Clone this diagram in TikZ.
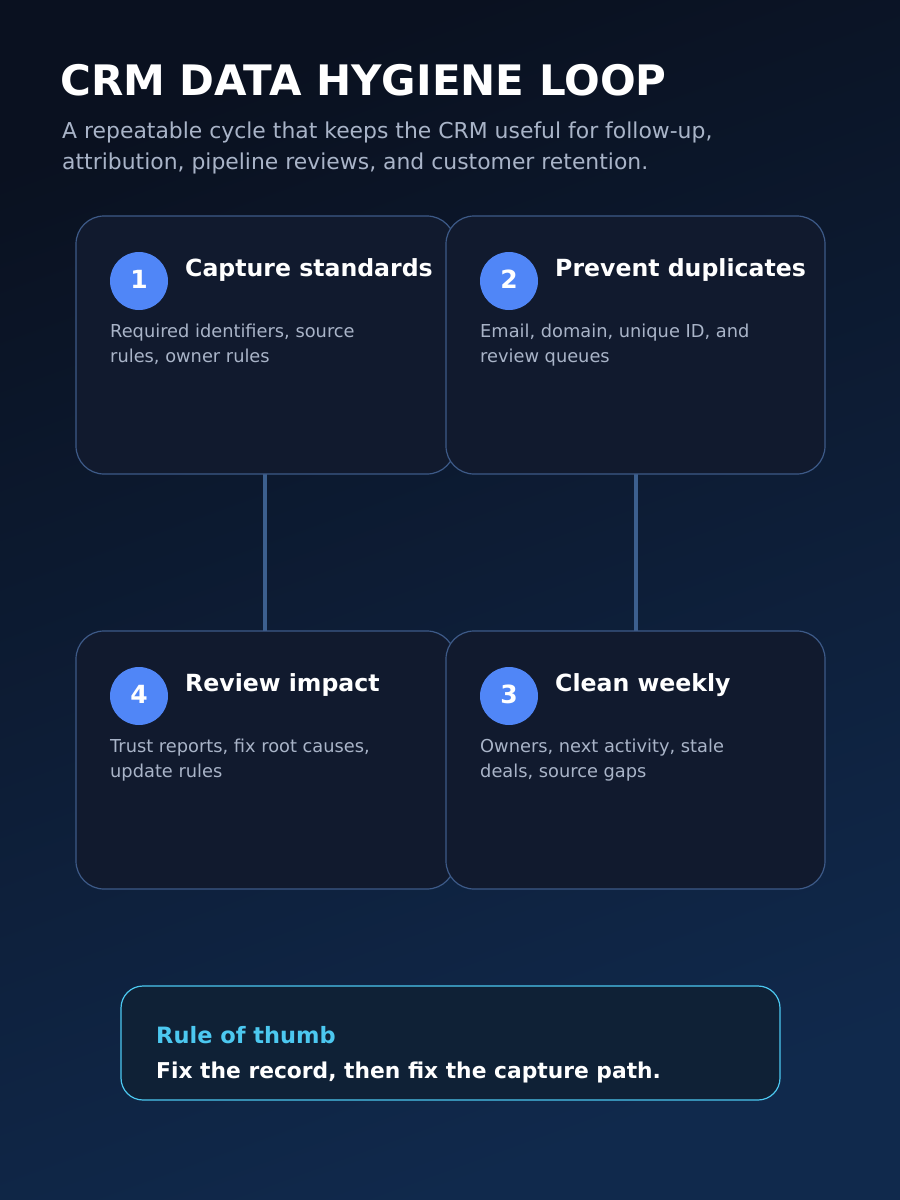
\documentclass[tikz,border=0pt]{standalone}
\usepackage{fontspec}
\setmainfont{DejaVu Sans}
\definecolor{bgA}{HTML}{0A1120}
\definecolor{bgB}{HTML}{10294C}
\definecolor{cardfill}{HTML}{111A2E}
\definecolor{cardline}{HTML}{3D5A88}
\definecolor{conn}{HTML}{3C5F8E}
\definecolor{badge}{HTML}{5086F7}
\definecolor{desc}{HTML}{A9B4C8}
\definecolor{cyanc}{HTML}{4CC8F0}
\definecolor{notefill}{HTML}{0F2136}
\begin{document}
\begin{tikzpicture}[x=1pt,y=-1pt,
  card/.style={draw=cardline,line width=1.2pt,fill=cardfill,rounded corners=28pt},
  badgec/.style={circle,fill=badge,minimum size=58pt,inner sep=0pt,text=white,font=\bfseries\fontsize{25}{28}\selectfont},
  ctitle/.style={anchor=base west,text=white,font=\bfseries\fontsize{23.6}{27}\selectfont,inner sep=0pt},
  cdesc/.style={anchor=base west,text=desc,font=\fontsize{17.8}{25}\selectfont,inner sep=0pt,align=left},
  connector/.style={draw=conn,line width=4pt}]
\shade[shading=axis,top color=bgA,bottom color=bgB,shading angle=20] (0,0) rectangle (900,1200);
\useasboundingbox (0,0) rectangle (900,1200);
\node[anchor=base west,inner sep=0pt,text=white,font=\bfseries\fontsize{42}{48}\selectfont] (title) at (60,95) {CRM DATA HYGIENE LOOP};
\node[anchor=base west,inner sep=0pt,text=desc,font=\fontsize{21.9}{31}\selectfont,align=left] (sub) at (62,169) {A repeatable cycle that keeps the CRM useful for follow-up,\\attribution, pipeline reviews, and customer retention.};
\coordinate (c1b) at (265,474); \coordinate (c4t) at (265,631);
\coordinate (c2b) at (636,474); \coordinate (c3t) at (636,631);
\draw[connector] (c1b) -- (c4t);
\draw[connector] (c2b) -- (c3t);
\draw[card] (76,216) rectangle (455,474);
\draw[card] (446,216) rectangle (825,474);
\draw[card] (76,631) rectangle (455,889);
\draw[card] (446,631) rectangle (825,889);
\node[badgec] (b1) at (139,281) {\raisebox{4pt}{1}};
\node[ctitle] (t1) at (185,276) {Capture standards};
\node[cdesc] (d1) at (110,362) {Required identifiers, source\\rules, owner rules};
\node[badgec] (b2) at (509,281) {\raisebox{4pt}{2}};
\node[ctitle] (t2) at (555,276) {Prevent duplicates};
\node[cdesc] (d2) at (480,362) {Email, domain, unique ID, and\\review queues};
\node[badgec] (b4) at (139,696) {\raisebox{4pt}{4}};
\node[ctitle] (t4) at (185,691) {Review impact};
\node[cdesc] (d4) at (110,777) {Trust reports, fix root causes,\\update rules};
\node[badgec] (b3) at (509,696) {\raisebox{4pt}{3}};
\node[ctitle] (t3) at (555,691) {Clean weekly};
\node[cdesc] (d3) at (480,777) {Owners, next activity, stale\\deals, source gaps};
\draw[draw=cyanc,line width=1.2pt,fill=notefill,rounded corners=22pt] (121,986) rectangle (780,1100);
\node[anchor=base west,inner sep=0pt,text=cyanc,font=\bfseries\fontsize{22.5}{25}\selectfont] (rt) at (156,1043) {Rule of thumb};
\node[anchor=base west,inner sep=0pt,text=white,font=\bfseries\fontsize{21.8}{25}\selectfont] (rb) at (156,1078) {Fix the record, then fix the capture path.};
\end{tikzpicture}
\end{document}
